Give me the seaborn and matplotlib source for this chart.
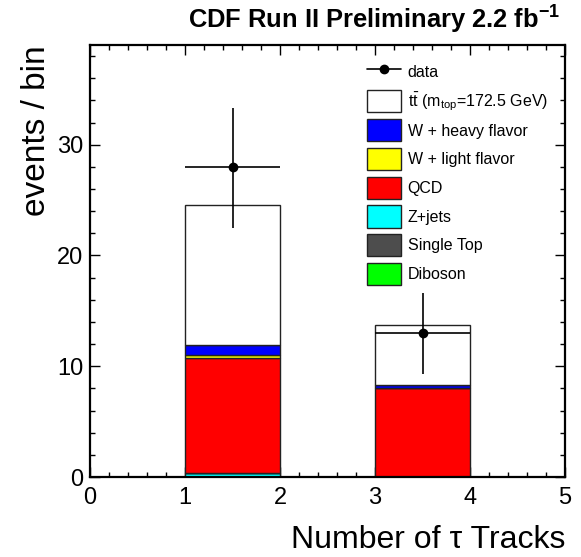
import numpy as np
import pandas as pd
import matplotlib
matplotlib.use("Agg")
import matplotlib.pyplot as plt
from matplotlib.patches import Patch
from matplotlib.lines import Line2D
from matplotlib.ticker import MultipleLocator
import seaborn as sns

# ---- data ----
bin_edges = [1, 2, 3, 4]
bin_centers = [1.5, 2.5, 3.5]
processes = ["tt", "W + heavy flavor", "W + light flavor", "QCD",
             "Single Top", "Diboson", "Z+jets"]   # top -> bottom in stack
ttbar = [12.7, 0.0, 5.35]
w_heavy = [0.9, 0.0, 0.3]
w_light = [0.3, 0.0, 0.05]
qcd = [10.35, 0.0, 8.0]
single_top = [0.0, 0.0, 0.0]
diboson = [0.0, 0.0, 0.0]
zjets = [0.35, 0.0, 0.0]

data_x = [1.5, 3.5]
data_y = [28, 13]
data_err_lo = [5.5, 3.7]
data_err_hi = [5.3, 3.6]
data_xerr = [0.5, 0.5]

colors = {"tt": "#ffffff", "W + heavy flavor": "#0000ff",
          "W + light flavor": "#ffff00", "QCD": "#ff0000",
          "Z+jets": "#00ffff", "Single Top": "#4d4d4d", "Diboson": "#00ff00"}
legend_labels = ["t$\\mathrm{\\bar{t}}$ (m$_{\\mathrm{top}}$=172.5 GeV)",
                 "W + heavy flavor", "W + light flavor", "QCD",
                 "Z+jets", "Single Top", "Diboson"]
legend_keys = ["tt", "W + heavy flavor", "W + light flavor", "QCD",
               "Z+jets", "Single Top", "Diboson"]

values = {"tt": ttbar, "W + heavy flavor": w_heavy, "W + light flavor": w_light,
          "QCD": qcd, "Single Top": single_top, "Diboson": diboson, "Z+jets": zjets}
rows = []
for p in processes:
    for x, w in zip(bin_centers, values[p]):
        rows.append({"process": p, "x": x, "w": w})
df = pd.DataFrame(rows)

# ---- style ----
sns.set_theme(style="ticks")
plt.rcParams["font.family"] = ["Liberation Sans", "DejaVu Sans"]
plt.rcParams["mathtext.fontset"] = "custom"
plt.rcParams["mathtext.rm"] = "Liberation Sans"
plt.rcParams["mathtext.it"] = "Liberation Sans:italic"
plt.rcParams["mathtext.bf"] = "Liberation Sans:bold"
for key in ["text.color", "axes.labelcolor", "xtick.color", "ytick.color",
            "axes.edgecolor"]:
    plt.rcParams[key] = "black"

fig = plt.figure(figsize=(5.81, 5.57), dpi=100)
ax = fig.add_axes([90 / 581, 80 / 557, 475 / 581, 432 / 557])

sns.histplot(data=df, x="x", weights="w", hue="process", hue_order=processes,
             bins=bin_edges, multiple="stack", palette=colors, alpha=1,
             edgecolor="#222222", linewidth=1.0, legend=False, ax=ax)

ax.errorbar(data_x, data_y, xerr=data_xerr, yerr=[data_err_lo, data_err_hi],
            fmt="o", color="black", ms=6, lw=1.2, capsize=0, zorder=5)

ax.set_xlim(0, 5)
ax.set_ylim(0, 39)
ax.xaxis.set_major_locator(MultipleLocator(1))
ax.xaxis.set_minor_locator(MultipleLocator(0.2))
ax.yaxis.set_major_locator(MultipleLocator(10))
ax.yaxis.set_minor_locator(MultipleLocator(2))
ax.tick_params(which="both", direction="in", top=True, right=True,
               colors="black", width=1.0, labelsize=17)
ax.tick_params(which="major", length=7)
ax.tick_params(which="minor", length=3.5)
ax.tick_params(axis="x", which="major", pad=7.5)
ax.tick_params(axis="y", which="major", pad=5)
for s in ax.spines.values():
    s.set_linewidth(1.6)
    s.set_color("black")

ax.set_xlabel("Number of τ Tracks", fontsize=23, loc="right")
ax.xaxis.set_label_coords(1.0, -0.112)
ax.set_ylabel("events / bin", fontsize=24, loc="top")
ax.yaxis.set_label_coords(-0.08, 1.0)

fig.text(560 / 581, 1 - 29 / 557, "CDF Run II Preliminary 2.2 fb$^{\\mathbf{-1}}$",
         ha="right", va="baseline", fontsize=18.4, fontweight="bold")

handles = [Line2D([], [], color="black", marker="o", ms=6, lw=1.2)]
labels = ["data"]
for k, lab in zip(legend_keys, legend_labels):
    handles.append(Patch(facecolor=colors[k], edgecolor="#222222", linewidth=1.0))
    labels.append(lab)
ax.legend(handles, labels, loc="upper left", bbox_to_anchor=(367 / 581, 1 - 61 / 557),
          bbox_transform=fig.transFigure, frameon=False, fontsize=11.5,
          handlelength=2.15, handleheight=1.76, labelspacing=0.41,
          handletextpad=0.4, borderaxespad=0, borderpad=0)

fig.savefig("out.png", dpi=100, facecolor="white")
